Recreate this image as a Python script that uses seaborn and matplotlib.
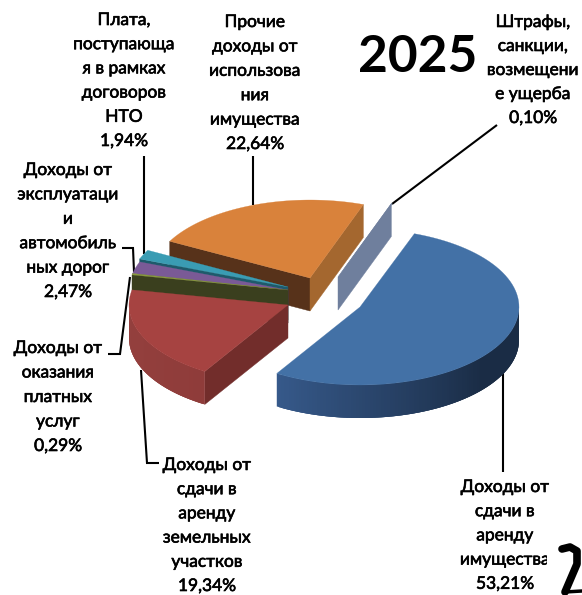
import numpy as np
import matplotlib
matplotlib.use("Agg")
import matplotlib.pyplot as plt
import matplotlib.patheffects as pe
from matplotlib.patches import Rectangle
from matplotlib.colors import to_rgb
import seaborn as sns

# ---- data ----
values = [53.21, 19.34, 0.29, 2.47, 1.94, 22.64, 0.10]
label_lines = [
    ["Доходы от", "сдачи в", "аренду", "имущества"],
    ["Доходы от", "сдачи в", "аренду", "земельных", "участков"],
    ["Доходы от", "оказания", "платных", "услуг"],
    ["Доходы от", "эксплуатаци", "и", "автомобиль", "ных дорог"],
    ["Плата,", "поступающа", "я в рамках", "договоров", "НТО"],
    ["Прочие", "доходы от", "использова", "ния", "имущества"],
    ["Штрафы,", "санкции,", "возмещени", "е ущерба"],
]
year = "2025"

# ---- styling ----
top_colors = ["#4371A6", "#A64341", "#8A9A3E", "#7A5A96", "#3A9CB3", "#D9823B", "#6F7F9D"]
sns.set_theme(style="white", palette=top_colors)
plt.rcParams["font.family"] = ["Lato", "Open Sans", "DejaVu Sans"]

START = 70.0
RX, RY, DEPTH = 159.0, 78.0, 33.0
centers = [(360, 307), (288, 305), (288, 290), (288, 290), (288, 287), (310, 278), (338, 277)]
wall_start = [None, "#722D2B", "#3A3F1E", "#3E2B58", "#1E5A6B", "#57321A", "#6F7F9D"]
wall_end = [None, None, None, None, None, "#A4672F", None]
rim_from = {0: "#36598A", 1: "#8F3C3A"}
rim_to = {0: "#1A2C45", 1: "#933F3D"}
rim_stop = {0: 0.0, 1: -180.0}

fig = plt.figure(figsize=(5.82, 5.95), dpi=100)
ax = fig.add_axes([0, 0, 1, 1])
ax.set_xlim(0, 582)
ax.set_ylim(595, 0)
ax.axis("off")

edges = START - np.cumsum([0] + values) * 3.6


def pt(c, deg):
    t = np.radians(deg)
    return c[0] + RX * np.cos(t), c[1] - RY * np.sin(t)


def wall(c, deg, color, z):
    x, y = pt(c, deg)
    ax.fill([c[0], x, x, c[0]], [c[1], y, y + DEPTH, c[1] + DEPTH],
            color=color, lw=0.3, zorder=z)


def draw_slice(i, z):
    a0, a1 = edges[i], edges[i + 1]
    c = centers[i]
    if wall_start[i]:
        wall(c, a0, wall_start[i], z)
    if wall_end[i]:
        wall(c, a1, wall_end[i], z)
    # outer rim, front half only, shaded along the arc
    if i in rim_from:
        first = a1 if i == 0 else a0
        rng = np.linspace(first, rim_stop[i], 121)
        c0, c1 = np.array(to_rgb(rim_from[i])), np.array(to_rgb(rim_to[i]))
        for k in range(len(rng) - 1):
            f = min(1.0, k / (len(rng) - 1) * 1.5)
            col = c0 + (c1 - c0) * f
            k2 = min(k + 3, len(rng) - 1)
            seg = rng[k:k2 + 1]
            px, py = zip(*[pt(c, t) for t in seg])
            px, py = np.array(px), np.array(py)
            ax.fill(np.r_[px, px[::-1]], np.r_[py, (py + DEPTH)[::-1]],
                    color=col, lw=0, zorder=z)
    # top face
    ts = np.linspace(a0, a1, 80)
    xs, ys = zip(*[pt(c, t) for t in ts])
    ax.fill([c[0], *xs], [c[1], *ys], color=top_colors[i], lw=0.2, zorder=z + 0.5)


for z, i in enumerate([5, 4, 3, 2, 1, 6, 0]):
    draw_slice(i, z + 2)

# ---- leader lines ----
leaders = [
    [(503, 373), (503, 472)],
    [(141, 370), (147, 463), (159, 463)],
    [(130, 277), (120, 354), (108, 354)],
    [(134, 272), (133, 248), (122, 248)],
    [(144, 254), (144, 156)],
    [(253, 205), (253, 156)],
    [(392, 204), (497, 125)],
]
for pts in leaders:
    lx, ly = zip(*pts)
    ax.plot(lx, ly, color="black", lw=1.5, zorder=1.5,
            solid_capstyle="butt", solid_joinstyle="miter")

# ---- labels ----
label_x = [505, 207, 58, 68, 124, 255, 533]
label_y0 = [487, 465, 348, 170, 20, 22, 22]
label_dy = [24.2, 24.2, 24.5, 24.4, 24.2, 24.4, 24.0]
FS = 12.5
bolden = [pe.withStroke(linewidth=0.45, foreground="black")]
clip = Rectangle((0, 0), 547, 595, transform=ax.transData, fill=False, lw=0)
ax.add_patch(clip)
for i, lines in enumerate(label_lines):
    pct = f"{values[i]:.2f}".replace(".", ",") + "%"
    for j, s in enumerate(lines + [pct]):
        t = ax.text(label_x[i], label_y0[i] + j * label_dy[i], s, ha="center", va="center",
                    fontsize=FS, color="black", zorder=20, path_effects=bolden)
        if i == 0 and j == 3:
            t.set_clip_path(clip)
            t.set_clip_on(True)

ax.text(418, 58, year, ha="center", va="center", fontsize=37, fontweight="bold",
        color="black", zorder=20)

# ---- stray mark at the corner of the source picture ----
ax.plot([562, 570, 577, 577, 571, 565], [549, 547, 551, 564, 578, 592],
        color="black", lw=5.5, zorder=20, solid_capstyle="round")
ax.plot([565, 582], [592, 591], color="black", lw=2.5, zorder=20)

fig.savefig("out.png", dpi=100)
